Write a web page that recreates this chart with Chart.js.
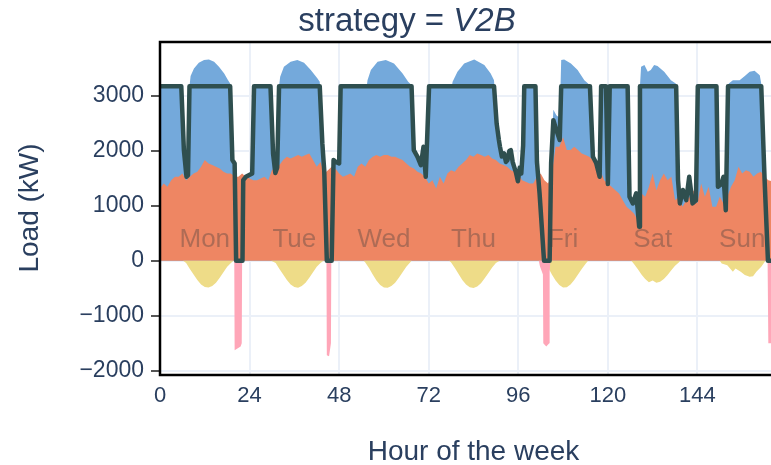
<!DOCTYPE html>
<html>
<head>
<meta charset="utf-8">
<script src="https://cdn.jsdelivr.net/npm/chart.js@4/dist/chart.umd.min.js"></script>
<style>
  html, body { margin: 0; padding: 0; background: #fff; overflow: hidden; }
  #wrap { width: 800px; height: 465px; }
</style>
</head>
<body>
<div id="wrap"><canvas id="chart" width="800" height="465"></canvas></div>
<script>
// --- data (hour of the week, kW) ---
const dayNames = ['Mon', 'Tue', 'Wed', 'Thu', 'Fri', 'Sat', 'Sun'];
const dayLabelHours = [12, 36, 60, 84, 108, 132, 156];
const xTicks = [0, 24, 48, 72, 96, 120, 144];
const yTicks = [-2000, -1000, 0, 1000, 2000, 3000];

// building load (orange), hourly 0..168
const buildingLoad = [
  1318, 1409, 1348, 1469, 1530, 1530, 1591, 1469, 1530, 1591, 1621, 1712, 1834, 1773, 1743, 1712, 1682, 1621, 1591, 1591, 1530, 1530, 1591, 1530,
  1500, 1469, 1469, 1500, 1530, 1469, 1651, 1712, 1743, 1834, 1894, 1864, 1894, 1925, 1894, 1925, 1955, 1834, 1712, 1800, 1591, 1651, 1712, 1682,
  1591, 1530, 1560, 1591, 1530, 1712, 1773, 1712, 1834, 1894, 1925, 1894, 1925, 1925, 1894, 1894, 1864, 1834, 1773, 1712, 1682, 1621, 1591, 1530,
  1409, 1469, 1318, 1530, 1409, 1591, 1651, 1621, 1712, 1773, 1834, 1925, 1894, 1955, 1925, 1894, 1925, 1864, 1834, 1773, 1743, 1712, 1651, 1621,
  1591, 1469, 1440, 1409, 1409, 1530, 1591, 1469, 1409, 1591, 2077, 2077, 2250, 2016, 2016, 2077, 2016, 1955, 1925, 1894, 1834, 1712, 1651, 1469,
  1409, 1348, 1287, 1226, 1105, 984, 923, 862, 741, 1226, 1166, 1348, 1591, 1287, 1469, 1591, 1469, 1530, 1105, 1166, 984, 1105, 1166, 1287,
  1044, 1409, 1166, 1348, 984, 984, 1166, 1044, 1166, 1348, 1469, 1712, 1591, 1651, 1621, 1530, 1591, 1621, 1530, 1469, 1450, 1450, 1450, 1450,
  1450
];

// total load incl. EV charging (blue top)
const totalHours = [
  0, 5.7, 6.4, 7.1, 7.5, 7.9, 8.2, 9.1, 10.4, 11.8, 13.1, 14.5, 15.8, 17.2, 18.2, 18.8, 19.4, 20.0, 20.4, 22.1, 22.3, 23.0, 24.7, 25.2,
  29.6, 30.3, 30.9, 31.4, 31.9, 32.2, 33.2, 35.0, 36.8, 38.6, 40.4, 42.2, 42.8, 43.5, 44.0, 44.7, 46.0, 46.5, 47.1, 48.0, 48.4,
  55.4, 55.6, 56.5, 58.3, 60.5, 62.7, 65.0, 66.5, 67.4, 68.0, 69.0, 69.9, 70.6, 71.2, 72.1,
  78.2, 78.4, 79.7, 81.5, 84.2, 86.9, 88.6, 89.5, 90.2, 90.8, 91.1, 91.6, 92.2, 92.7, 93.1, 93.6, 94.0, 94.5, 94.9, 95.4, 95.9, 96.4, 96.8, 97.3, 97.6,
  100.6, 101.0, 101.7, 102.9, 104.4, 104.8, 105.4, 106.2, 107.1, 107.5, 108.3, 110.1, 111.9, 113.7, 114.7, 115.2, 116.0, 116.9, 117.8, 118.2, 119.5, 120.0, 120.5,
  125.3, 125.8, 126.7, 127.6, 128.4, 128.6, 128.9, 129.8, 130.7, 131.5, 132.4, 133.3, 135.1, 136.9, 138.2, 138.3, 138.8, 139.3, 140.1, 141.0, 141.8, 142.7, 143.6, 144.1,
  149.1, 149.5, 150.4, 151.0, 151.6, 152.2, 152.4, 153.5, 155.3, 156.7, 158.0, 159.3, 160.7, 161.1, 162.0, 162.9, 168
];
const totalLoad = [
  3180, 3180, 2016, 1530, 1560, 3180, 3364, 3503, 3606, 3655, 3667, 3625, 3533, 3412, 3291, 3230, 1834, 1773, 0, 0, 1470, 1560, 1620, 3180,
  3180, 1950, 1600, 1700, 3180, 3350, 3533, 3625, 3655, 3606, 3473, 3321, 3260, 2137, 1650, 0, 0, 1834, 1800, 1773, 3180,
  3180, 3290, 3473, 3625, 3655, 3594, 3412, 3260, 3200, 2016, 1894, 1743, 2076, 1530, 3180,
  3180, 3260, 3443, 3594, 3667, 3564, 3412, 3290, 2500, 2200, 2076, 1900, 1955, 1800, 1834, 2000, 2016, 1800, 1712, 1600, 1450, 1700, 1590, 2100, 3180,
  3180, 1800, 1230, 0, 0, 1900, 2750, 2650, 2600, 3655, 3667, 3594, 3473, 3290, 3230, 3180, 1894, 1775, 1530, 3180, 3180, 1400, 3180,
  3180, 1166, 1045, 1230, 620, 3180, 3533, 3564, 3443, 3473, 3564, 3546, 3443, 3290, 3230, 3180, 1470, 1045, 1290, 1105, 1530, 1045, 1100, 3180,
  3180, 1350, 1400, 1530, 920, 3180, 3230, 3290, 3290, 3364, 3443, 3460, 3380, 3230, 1470, 0, 0
];

// net grid load (dark line)
const gridHours = [
  0, 5.7, 6.4, 7.1, 7.5, 7.9, 18.8, 19.4, 20.0, 20.4, 22.1, 22.3, 23.0, 24.7, 25.2,
  29.6, 30.3, 30.9, 31.4, 31.9, 42.8, 43.5, 44.0, 44.7, 46.0, 46.5, 47.1, 48.0, 48.4,
  67.4, 68.0, 69.0, 69.9, 70.6, 71.2, 72.1,
  89.5, 90.2, 90.8, 91.1, 91.6, 92.2, 92.7, 93.1, 93.6, 94.0, 94.5, 94.9, 95.4, 95.9, 96.4, 96.8, 97.3, 97.6,
  100.6, 101.0, 101.7, 102.9, 104.4, 104.8, 105.4, 106.2, 107.1, 107.5, 115.2, 116.0, 116.9, 117.8, 118.2, 119.5, 120.0, 120.5,
  125.3, 125.8, 126.7, 127.6, 128.4, 128.6, 138.3, 138.8, 139.3, 140.1, 141.0, 141.8, 142.7, 143.6, 144.1,
  149.1, 149.5, 150.4, 151.0, 151.6, 152.2, 161.1, 162.0, 162.9, 168
];
const gridLoad = [
  3180, 3180, 2016, 1530, 1560, 3180, 3180, 1834, 1773, 0, 0, 1470, 1530, 1590, 3180,
  3180, 1950, 1600, 1700, 3180, 3180, 2137, 1650, 0, 0, 1834, 1800, 1773, 3180,
  3180, 2016, 1894, 1743, 2076, 1530, 3180,
  3180, 2500, 2200, 2076, 1900, 1955, 1800, 1834, 2000, 2016, 1800, 1712, 1600, 1450, 1700, 1590, 2100, 3180,
  3180, 1800, 1230, 0, 0, 1780, 2560, 2380, 2200, 3180, 3180, 1894, 1775, 1530, 3180, 3180, 1400, 3180,
  3180, 1166, 1045, 1230, 620, 3180, 3180, 1470, 1045, 1290, 1105, 1530, 1045, 1100, 3180,
  3180, 1350, 1400, 1530, 920, 3180, 3180, 1470, 0, 0
];

// PV generation (yellow, negative)
const pvHours = [
  0, 6.2, 7, 8, 9, 10, 11, 12, 13, 14, 15, 16, 17, 18, 19, 19.7,
  29.8, 31, 32, 33, 34, 35, 36, 37, 38, 39, 40, 41, 42, 43, 43.8,
  54.6, 55, 56, 57, 58, 59, 60, 61, 62, 63, 64, 65, 66, 67, 67.4,
  77.5, 78, 79, 80, 81, 82, 83, 84, 85, 86, 87, 88, 89, 90, 91,
  102.6, 103, 104, 105, 106, 107, 108, 109, 110, 111, 112, 113, 114, 114.7,
  126.3, 127, 128, 129, 130, 131, 132, 133, 134, 135, 136, 137, 138, 139, 139.4,
  150, 150.5, 152, 153.5, 154.2, 155.6, 156.7, 158, 158.9, 159.8, 161.1, 162, 162.3, 168
];
const pvLoad = [
  0, 0, -40, -150, -250, -350, -430, -475, -488, -460, -400, -310, -210, -110, -40, 0,
  0, -40, -150, -250, -350, -430, -475, -490, -460, -400, -310, -210, -110, -40, 0,
  0, -30, -130, -250, -360, -440, -485, -490, -460, -400, -310, -210, -110, -30, 0,
  0, -30, -130, -240, -350, -430, -480, -495, -470, -410, -320, -220, -120, -40, 0,
  0, -30, -120, -250, -360, -440, -485, -480, -430, -350, -250, -150, -60, 0,
  0, -60, -150, -250, -330, -390, -360, -400, -380, -330, -260, -170, -90, -30, 0,
  0, -50, -80, -200, -140, -200, -260, -290, -280, -200, -110, -20, 0, 0
];

// vehicle-to-building discharge (pink, negative)
const v2bHours = [0, 19.9, 20.0, 21.6, 21.9, 22.0, 22.3, 44.6, 44.7, 45.3, 45.8, 45.9,
  101.5, 101.8, 102.6, 102.7, 103.5, 104.3, 104.4, 104.6, 162.8, 163.0, 168];
const v2bLoad = [0, 0, -1630, -1560, -1500, -50, 0, 0, -1720, -1740, -1500, 0,
  0, -100, -250, -1500, -1560, -1500, -200, 0, 0, -1500, -1500];

// --- helpers ---
const FONT = '"Liberation Sans", Arial, Helvetica, sans-serif';
const TEXT = '#2a3f5f';
const pts = (xs, ys) => xs.map((x, i) => ({ x: x, y: ys[i] }));
const hourly = ys => ys.map((y, i) => ({ x: i, y: y }));

const overlay = {
    id: 'overlay',
    afterDatasetsDraw(chart) {
        const { ctx, chartArea: a, scales: { x, y } } = chart;
        ctx.save();
        // day names on top of the areas
        ctx.font = '26px ' + FONT;
        ctx.fillStyle = 'rgba(60,60,60,0.36)';
        ctx.textAlign = 'center';
        ctx.textBaseline = 'middle';
        dayNames.forEach((d, i) => {
            ctx.fillText(d, x.getPixelForValue(dayLabelHours[i]), y.getPixelForValue(380));
        });
        // plot frame
        ctx.strokeStyle = '#000';
        ctx.lineWidth = 2.5;
        ctx.strokeRect(a.left, a.top, a.right - a.left, a.bottom - a.top);
        ctx.restore();
    },
    afterDraw(chart) {
        const { ctx, chartArea: a } = chart;
        ctx.save();
        ctx.fillStyle = TEXT;
        // title: "strategy = " + italic "V2B"
        ctx.textBaseline = 'alphabetic';
        ctx.textAlign = 'left';
        const t1 = 'strategy = ', t2 = 'V2B';
        ctx.font = '33px ' + FONT;
        const w1 = ctx.measureText(t1).width;
        ctx.font = 'italic 33px ' + FONT;
        const w2 = ctx.measureText(t2).width;
        const x0 = 407 - (w1 + w2) / 2;
        ctx.font = '33px ' + FONT;
        ctx.fillText(t1, x0, 31);
        ctx.font = 'italic 33px ' + FONT;
        ctx.fillText(t2, x0 + w1, 31);
        // axis titles
        ctx.font = '28px ' + FONT;
        ctx.textAlign = 'center';
        ctx.fillText('Hour of the week', (a.left + a.right) / 2, 460);
        ctx.translate(30, 208);
        ctx.rotate(-Math.PI / 2);
        ctx.textBaseline = 'middle';
        ctx.fillText('Load (kW)', 0, 0);
        ctx.restore();
    }
};

const area = (data, color, order) => ({
    data: data, order: order, fill: 'origin', backgroundColor: color,
    borderWidth: 0, pointRadius: 0, tension: 0
});

new Chart(document.getElementById('chart'), {
    type: 'line',
    data: {
        datasets: [
            { data: pts(gridHours, gridLoad), order: 0, fill: false, borderColor: '#2f4f4f',
              borderWidth: 4.5, pointRadius: 0, tension: 0, borderJoinStyle: 'round' },
            area(pts(v2bHours, v2bLoad), '#ffa6b8', 1),
            area(pts(pvHours, pvLoad), '#eedc88', 2),
            area(hourly(buildingLoad), '#ee8663', 3),
            area(pts(totalHours, totalLoad), '#74a9db', 4)
        ]
    },
    options: {
        responsive: false,
        animation: false,
        layout: { padding: { top: 42, left: 0, right: 13, bottom: 0 } },
        plugins: { legend: { display: false }, tooltip: { enabled: false } },
        scales: {
            x: {
                type: 'linear', min: 0, max: 168,
                afterFit: s => { s.height = 90; },
                afterBuildTicks: s => { s.ticks = xTicks.map(v => ({ value: v })); },
                grid: { color: '#ebf0f8', lineWidth: 2, drawTicks: false },
                border: { display: false },
                ticks: { color: TEXT, font: { family: FONT, size: 22 }, padding: 8, maxRotation: 0 }
            },
            y: {
                min: -2080, max: 3985,
                afterFit: s => { s.width = 160; },
                afterBuildTicks: s => { s.ticks = yTicks.map(v => ({ value: v })); },
                grid: { color: '#ebf0f8', lineWidth: 2, tickColor: '#555', tickWidth: 2, tickLength: 9 },
                border: { display: false },
                ticks: {
                    color: TEXT, font: { family: FONT, size: 23 }, padding: 7,
                    callback: v => v < 0 ? '\u2212' + Math.abs(v) : String(v)
                }
            }
        }
    },
    plugins: [overlay]
});
</script>
</body>
</html>
